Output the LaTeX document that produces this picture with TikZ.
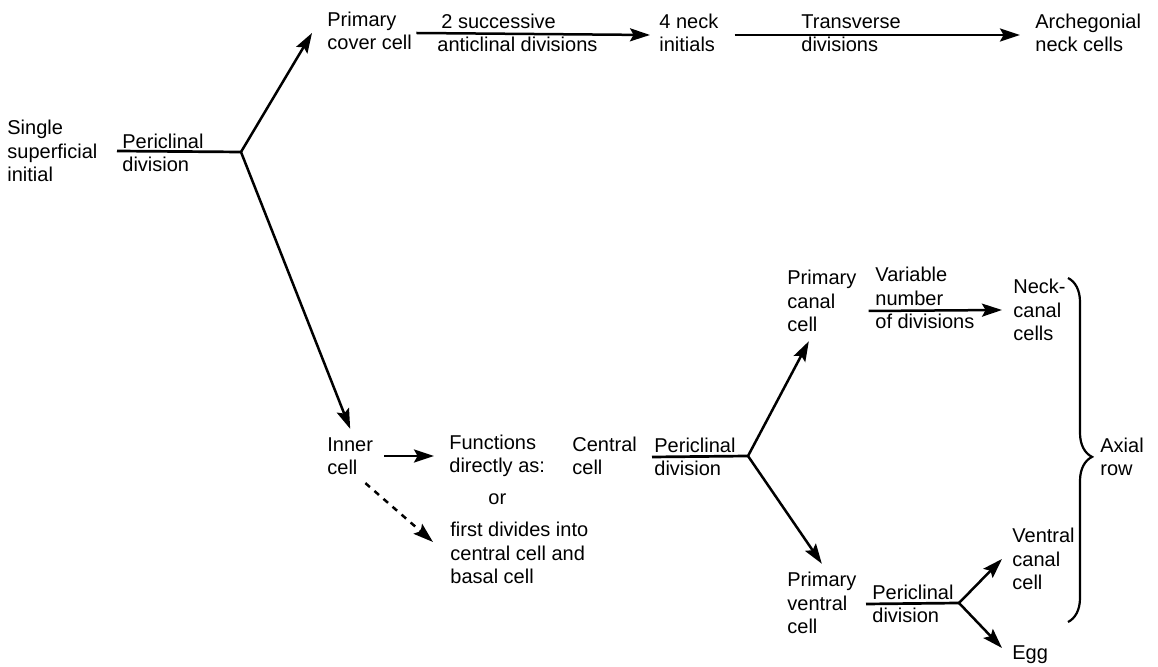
\documentclass[tikz,border=0pt]{standalone}
\usepackage{fontspec}
\setmainfont{Liberation Sans}
\usetikzlibrary{arrows.meta,decorations.pathreplacing}
\begin{document}
\begin{tikzpicture}[x=0.5pt,y=-0.5pt,
	txt/.style={anchor=west,inner sep=0pt,align=left,font=\fontsize{10}{11.75}\selectfont},
	stem/.style={line width=1.35pt},
	arr/.style={line width=1.25pt,-{Stealth[length=10pt,width=6.5pt,inset=1.8pt]}}]
		\useasboundingbox (0,0) rectangle (1158,667);
		\coordinate (B1) at (241,152);
		\coordinate (B2) at (748,456);
		\coordinate (B3) at (959,603);
		\node[txt] (single) at (7,151) {Single\\superficial\\initial};
		\node[txt] (peri1) at (122,153) {Periclinal\\division};
		\node[txt] (cover) at (327,31) {Primary\\cover cell};
		\node[txt] (succ) at (437,33) {\hspace{2pt}2 successive\\anticlinal divisions};
		\node[txt] (neck4) at (659,33) {4 neck\\initials};
		\node[txt] (trans) at (801,33) {Transverse\\divisions};
		\node[txt] (archeg) at (1035,33) {Archegonial\\neck cells};
		\node[txt] (inner) at (327,456) {Inner\\cell};
		\node[txt] (funct) at (449,456) {Functions\\directly as:};
		\node[txt] (central) at (572,456) {Central\\cell};
		\node[txt] (peri2) at (654,457) {Periclinal\\division};
		\node[txt] (or) at (488,499) {or};
		\node[txt] (first) at (450,553) {first divides into\\central cell and\\basal cell};
		\node[txt] (pcanal) at (787,301) {Primary\\canal\\cell};
		\node[txt] (var) at (875,298) {Variable\\number\\of divisions};
		\node[txt] (neckc) at (1013,310) {Neck-\\canal\\cells};
		\node[txt] (pventral) at (787,603) {Primary\\ventral\\cell};
		\node[txt] (peri3) at (872,604) {Periclinal\\division};
		\node[txt] (vcanal) at (1012,559) {Ventral\\canal\\cell};
		\node[txt] (egg) at (1012,655) {Egg};
		\node[txt] (axial) at (1100,457) {Axial\\row};
		\draw[stem] (single.east -| peri1.west) ++(-5,0) -- (B1);
		\draw[arr] (B1) -- ([shift={(-7.5pt,-1pt)}]cover.west);
		\draw[arr] (B1) -- ([yshift=4pt]inner.north);
		\draw[arr] ([shift={(2pt,-1pt)}]cover.east) -- ([shift={(-4.5pt,-1pt)}]neck4.west);
		\draw[arr] ([shift={(8pt,-1pt)}]neck4.east) -- ([shift={(-7.5pt,-1pt)}]archeg.west);
		\draw[arr] ([xshift=5.5pt]inner.east) -- ([xshift=-7.5pt]funct.west);
		\draw[arr,dashed] ([shift={(-4pt,-4pt)}]inner.south east) -- ([shift={(-8.5pt,5.5pt)}]first.west);
		\draw[stem] ([xshift=-1pt]peri2.west) -- (B2);
		\draw[arr] (B2) -- ([shift={(-6.5pt,-4.5pt)}]pcanal.south);
		\draw[arr] (B2) -- ([yshift=4pt]pventral.north);
		\draw[arr] ([shift={(6pt,-5pt)}]pcanal.east) -- ([shift={(-5.5pt,0pt)}]neckc.west);
		\draw[stem] ([xshift=-3pt]peri3.west) -- (B3);
		\draw[arr] (B3) -- ([xshift=-5pt]vcanal.west);
		\draw[arr] (B3) -- ([shift={(-5pt,3.5pt)}]egg.west);
		\draw[line width=1.1pt,decorate,decoration={brace,amplitude=12pt,aspect=0.52}] (1068,278) -- (1068,622);
		\end{tikzpicture}
\end{document}
